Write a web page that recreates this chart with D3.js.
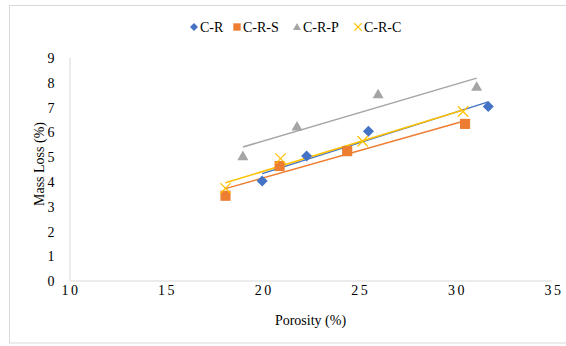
<!DOCTYPE html>
<html>
<head>
<meta charset="utf-8">
<script src="https://cdn.jsdelivr.net/npm/d3@7"></script>
<style>
  html, body { margin: 0; padding: 0; background: #fff; }
  svg text { font-family: "Liberation Serif", "Times New Roman", serif; fill: #000; }
</style>
</head>
<body>
<svg id="chart" width="566" height="346"></svg>
<script>
// Porosity (%) vs mass loss (%) for four mixes
const seriesNames = ["C-R", "C-R-S", "C-R-P", "C-R-C"];
const seriesColors = ["#4472c4", "#ed7d31", "#a5a5a5", "#ffc000"];
const seriesSymbols = ["diamond", "square", "triangle", "cross"];

const porosityCR  = [20.0, 22.3, 25.5, 31.7];
const massLossCR  = [4.0, 5.0, 6.0, 7.0];
const porosityCRS = [18.1, 20.9, 24.4, 30.5];
const massLossCRS = [3.4, 4.6, 5.2, 6.3];
const porosityCRP = [19.0, 21.8, 26.0, 31.1];
const massLossCRP = [5.0, 6.2, 7.5, 7.8];
const porosityCRC = [18.1, 20.95, 25.2, 30.4];
const massLossCRC = [3.7, 4.9, 5.6, 6.8];

const xTicks = [10, 15, 20, 25, 30, 35];
const yTicks = [0, 1, 2, 3, 4, 5, 6, 7, 8, 9];

const porosities = [porosityCR, porosityCRS, porosityCRP, porosityCRC];
const massLosses = [massLossCR, massLossCRS, massLossCRP, massLossCRC];

const series = seriesNames.map((name, i) => ({
  name,
  color: seriesColors[i],
  symbol: seriesSymbols[i],
  points: porosities[i].map((x, j) => ({ x, y: massLosses[i][j] }))
}));

const svg = d3.select("#chart");
const fontSize = 14;

// chart frame
svg.append("rect")
  .attr("x", 9.5).attr("y", 5.5)
  .attr("width", 570).attr("height", 337.5)
  .attr("fill", "none").attr("stroke", "#d9d9d9").attr("stroke-width", 1);

const x = d3.scaleLinear().domain([10, 35]).range([69, 552]);
const y = d3.scaleLinear().domain([0, 9]).range([280, 57]);

// axes
const xAxis = svg.append("g").attr("transform", `translate(0,${y(0) + 0.5})`)
  .call(d3.axisBottom(x).tickValues(xTicks).tickSize(0).tickPadding(5));
xAxis.select(".domain").attr("stroke", "#d9d9d9");
xAxis.selectAll("text").attr("font-size", fontSize).attr("letter-spacing", 2.5)
  .attr("dx", 1.5);

const yAxis = svg.append("g").attr("transform", `translate(${x(10) + 0.5},0)`)
  .call(d3.axisLeft(y).tickValues(yTicks).tickSize(0).tickPadding(15));
yAxis.select(".domain").attr("stroke", "#d9d9d9");
yAxis.selectAll("text").attr("font-size", fontSize).attr("dy", "0.4em");

// axis titles
svg.append("text")
  .attr("x", (x(10) + x(35)) / 2).attr("y", 325)
  .attr("text-anchor", "middle").attr("font-size", fontSize)
  .text("Porosity (%)");
svg.append("text")
  .attr("transform", `translate(44,164) rotate(-90)`)
  .attr("text-anchor", "middle").attr("font-size", fontSize)
  .text("Mass Loss (%)");

// least-squares trend line over each series' porosity range
function fit(pts) {
  const mx = d3.mean(pts, d => d.x), my = d3.mean(pts, d => d.y);
  const sxy = d3.sum(pts, d => (d.x - mx) * (d.y - my));
  const sxx = d3.sum(pts, d => (d.x - mx) ** 2);
  const b = sxy / sxx, a = my - b * mx;
  const [x0, x1] = d3.extent(pts, d => d.x);
  return [{ x: x0, y: a + b * x0 }, { x: x1, y: a + b * x1 }];
}

const line = d3.line().x(d => x(d.x)).y(d => y(d.y));

series.forEach(s => {
  svg.append("path")
    .attr("d", line(fit(s.points)))
    .attr("fill", "none").attr("stroke", s.color).attr("stroke-width", 1.5);
});

// marker shapes drawn around (cx, cy) with half-size r
function drawMarker(g, s, cx, cy, r) {
  let d;
  if (s.symbol === "diamond") {
    d = `M${cx},${cy - r}L${cx + r},${cy}L${cx},${cy + r}L${cx - r},${cy}Z`;
  } else if (s.symbol === "square") {
    const h = r * 0.92;
    d = `M${cx - h},${cy - h}H${cx + h}V${cy + h}H${cx - h}Z`;
  } else if (s.symbol === "triangle") {
    d = `M${cx},${cy - r}L${cx + r},${cy + r * 0.75}L${cx - r},${cy + r * 0.75}Z`;
  } else {
    const c = r * 0.95;
    g.append("path")
      .attr("d", `M${cx - c},${cy - c}L${cx + c},${cy + c}M${cx - c},${cy + c}L${cx + c},${cy - c}`)
      .attr("stroke", s.color).attr("stroke-width", 1.2).attr("fill", "none");
    return;
  }
  g.append("path").attr("d", d).attr("fill", s.color);
}

series.forEach(s => {
  const g = svg.append("g");
  s.points.forEach(p => drawMarker(g, s, x(p.x), y(p.y), 5.5));
});

// legend
const legendX = [194, 237, 297, 358];
series.forEach((s, i) => {
  const g = svg.append("g");
  drawMarker(g, s, legendX[i], 27, 4);
  g.append("text")
    .attr("x", legendX[i] + 6).attr("y", 32)
    .attr("font-size", fontSize)
    .text(s.name);
});
</script>
</body>
</html>
